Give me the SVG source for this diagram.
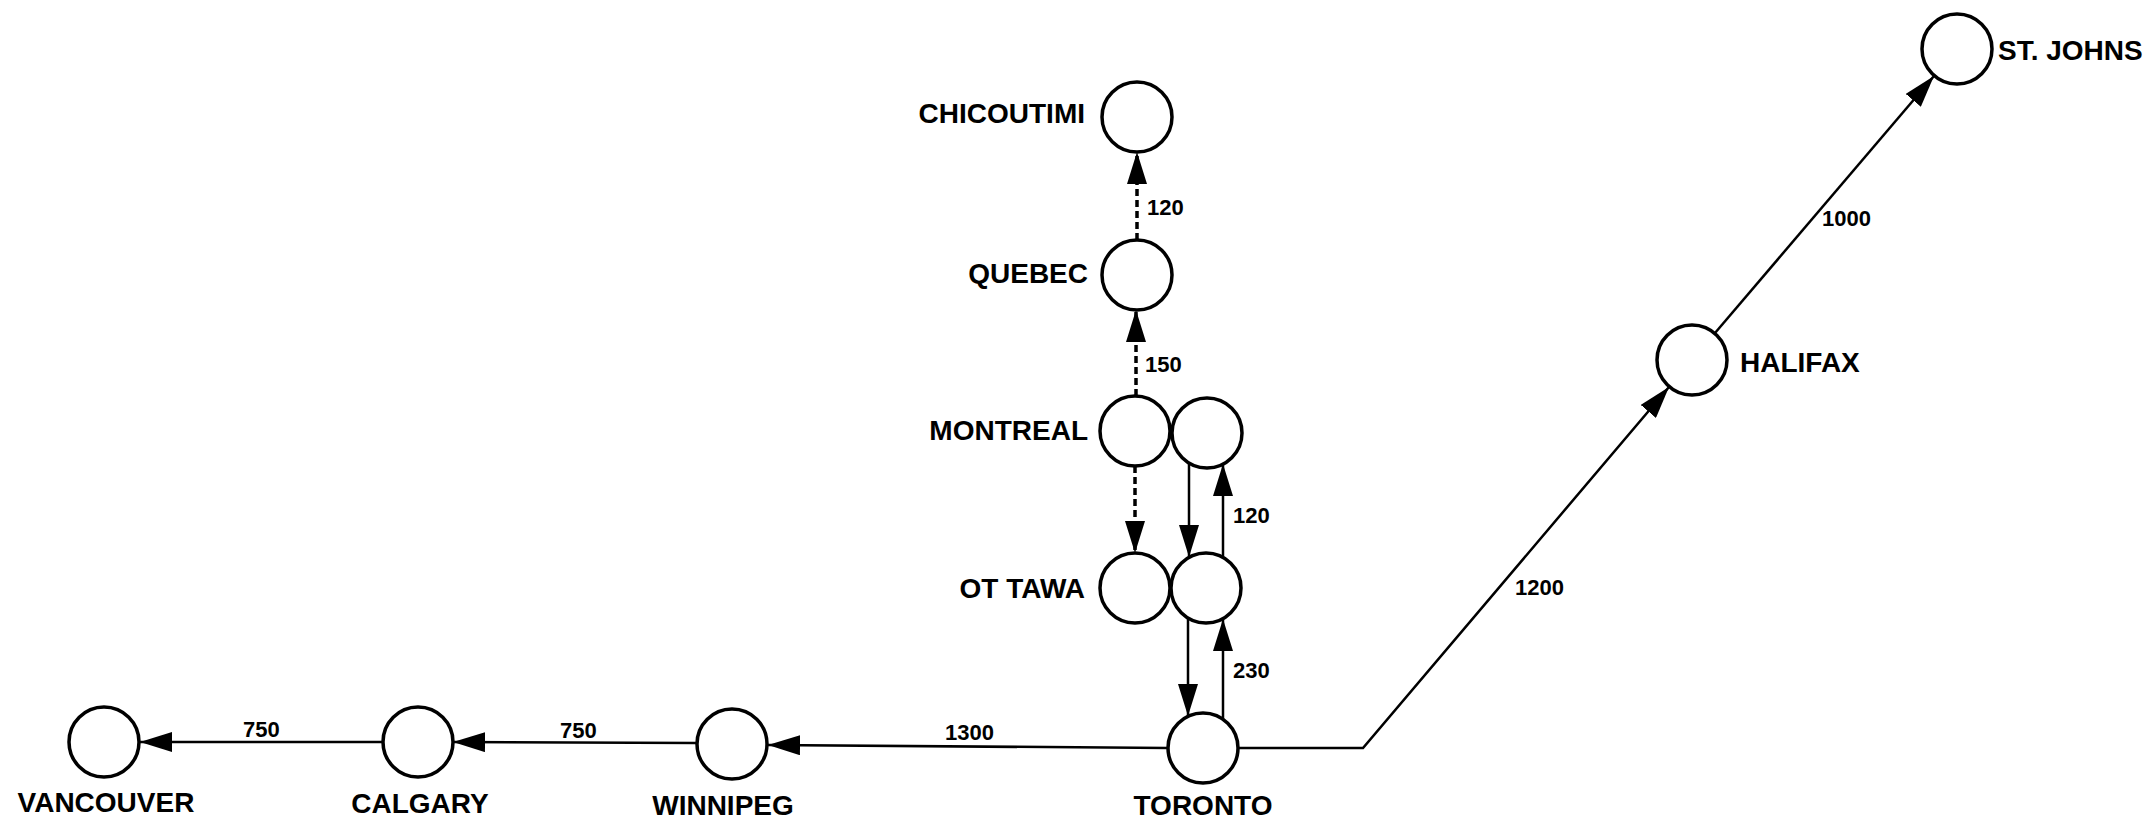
<svg xmlns="http://www.w3.org/2000/svg" width="2150" height="820" viewBox="0 0 2150 820">
<style>
.node{fill:#fff;stroke:#000;stroke-width:3.5}
.name{font-family:"Liberation Sans",Arial,sans-serif;font-weight:bold;font-size:28px;fill:#000}
.num{font-family:"Liberation Sans",Arial,sans-serif;font-weight:bold;font-size:22px;fill:#000}
.edge{fill:none;stroke:#000;stroke-width:2.5;marker-end:url(#arr)}
.dash{stroke-width:3.5;stroke-dasharray:7 4}
</style>
<defs>
<marker id="arr" markerUnits="userSpaceOnUse" markerWidth="33" markerHeight="20" refX="32" refY="10" orient="auto">
<path d="M0,0 L32,10 L0,20 z" fill="#000"/>
</marker>
</defs>
<rect width="2150" height="820" fill="#fff"/>
<g id="connectors">
<line class="edge" x1="1168" y1="748" x2="768" y2="745"/>
<line class="edge" x1="697" y1="743" x2="453" y2="742"/>
<line class="edge" x1="383" y1="742" x2="140" y2="742"/>
<polyline class="edge" points="1238,748 1363,748 1669,387"/>
<line class="edge" x1="1715" y1="333" x2="1934" y2="76"/>
<line class="edge dash" x1="1137" y1="240" x2="1137" y2="152"/>
<line class="edge dash" x1="1136" y1="396" x2="1136" y2="310"/>
<line class="edge dash" x1="1135" y1="466" x2="1135" y2="553"/>
<line class="edge" x1="1189" y1="463" x2="1189" y2="557"/>
<line class="edge" x1="1223" y1="557" x2="1223" y2="464"/>
<line class="edge" x1="1188" y1="618" x2="1188" y2="716"/>
<line class="edge" x1="1223" y1="719" x2="1223" y2="619"/>
<text class="num" x="1147" y="215">120</text>
<text class="num" x="1145" y="372">150</text>
<text class="num" x="1233" y="523">120</text>
<text class="num" x="1233" y="678">230</text>
<text class="num" x="945" y="740">1300</text>
<text class="num" x="560" y="738">750</text>
<text class="num" x="243" y="737">750</text>
<text class="num" x="1515" y="595">1200</text>
<text class="num" x="1822" y="226">1000</text>
</g>
<g id="chicoutimi"><circle class="node" cx="1137" cy="117" r="35"/><text class="name" x="1085" y="123" text-anchor="end">CHICOUTIMI</text></g>
<g id="quebec"><circle class="node" cx="1137" cy="275" r="35"/><text class="name" x="1088" y="283" text-anchor="end">QUEBEC</text></g>
<g id="montreal"><circle class="node" cx="1135" cy="431" r="35"/><text class="name" x="1088" y="440" text-anchor="end">MONTREAL</text></g>
<g id="montreal-2"><circle class="node" cx="1207" cy="433" r="35"/></g>
<g id="ottawa"><circle class="node" cx="1135" cy="588" r="35"/><text class="name" x="1085" y="598" text-anchor="end">OT TAWA</text></g>
<g id="ottawa-2"><circle class="node" cx="1206" cy="588" r="35"/></g>
<g id="toronto"><circle class="node" cx="1203" cy="748" r="35"/><text class="name" x="1203" y="815" text-anchor="middle">TORONTO</text></g>
<g id="winnipeg"><circle class="node" cx="732" cy="744" r="35"/><text class="name" x="723" y="815" text-anchor="middle">WINNIPEG</text></g>
<g id="calgary"><circle class="node" cx="418" cy="742" r="35"/><text class="name" x="420" y="813" text-anchor="middle">CALGARY</text></g>
<g id="vancouver"><circle class="node" cx="104" cy="742" r="35"/><text class="name" x="106" y="812" text-anchor="middle">VANCOUVER</text></g>
<g id="halifax"><circle class="node" cx="1692" cy="360" r="35"/><text class="name" x="1740" y="372">HALIFAX</text></g>
<g id="stjohns"><circle class="node" cx="1957" cy="49" r="35"/><text class="name" x="1998" y="60">ST. JOHNS</text></g>
</svg>
